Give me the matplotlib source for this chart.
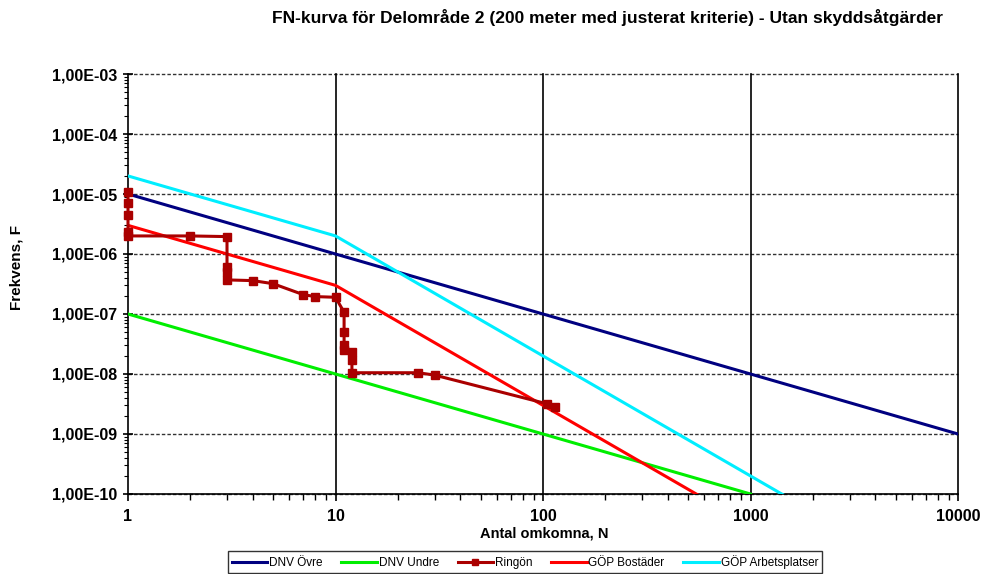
import matplotlib
matplotlib.use("Agg")
import matplotlib.pyplot as plt
from matplotlib.ticker import LogLocator, FuncFormatter, NullFormatter

plt.rcParams['font.family'] = ['Liberation Sans', 'DejaVu Sans']

# Kriterielinjer (N, F)
dnv_ovre_n = [1, 10000]
dnv_ovre_f = [1e-5, 1e-9]

dnv_undre_n = [1, 1000]
dnv_undre_f = [1e-7, 1e-10]

gop_bost_n = [1, 10, 1000]
gop_bost_f = [3e-6, 3e-7, 3e-11]

gop_arb_n = [1, 10, 1000, 10000]
gop_arb_f = [2e-5, 2e-6, 2e-10, 2e-12]

# Beräknad FN-kurva för Ringön
ringon_n = [1, 1, 1, 1, 1, 2, 3, 3, 3, 3, 4, 5, 7, 8, 10, 11, 11, 11, 11, 12, 12, 12, 25, 30, 104, 114]
ringon_f = [1.1e-5, 7e-6, 4.5e-6, 2.35e-6, 2e-6, 2e-6, 1.95e-6, 6.1e-7, 5.1e-7, 3.7e-7,
            3.6e-7, 3.2e-7, 2.1e-7, 1.95e-7, 1.9e-7, 1.07e-7, 5.1e-8, 3.0e-8, 2.5e-8,
            2.3e-8, 1.7e-8, 1.05e-8, 1.05e-8, 9.6e-9, 3.2e-9, 2.8e-9]

x_ticks = [1, 10, 100, 1000, 10000]
y_ticks = [1e-10, 1e-9, 1e-8, 1e-7, 1e-6, 1e-5, 1e-4, 1e-3]

fig = plt.figure(figsize=(9.98, 5.74), dpi=100)
ax = fig.add_axes([128 / 998, 1 - 494 / 574, 830 / 998, 420 / 574])

ax.set_xscale('log')
ax.set_yscale('log')
ax.set_xlim(1, 10000)
ax.set_ylim(1e-10, 1e-3)

# rutnät: streckat horisontellt, heldraget vertikalt
for y in y_ticks:
    ax.axhline(y, color='#333333', lw=1.0, ls=(0, (2.5, 1.5)), zorder=1, clip_on=False)
for x in x_ticks[1:]:
    ax.axvline(x, color='black', lw=1.2, zorder=1, clip_on=False)

lw = 2.2
ax.plot(dnv_ovre_n, dnv_ovre_f, color='#000080', lw=lw, label='DNV Övre', zorder=3)
ax.plot(dnv_undre_n, dnv_undre_f, color='#00ee00', lw=lw, label='DNV Undre', zorder=3)
ax.plot(ringon_n, ringon_f, color='#aa0000', lw=lw, marker='s', ms=6,
        label='Ringön', zorder=5, clip_on=False)
ax.plot(gop_bost_n, gop_bost_f, color='#ff0000', lw=lw, label='GÖP Bostäder', zorder=4)
ax.plot(gop_arb_n, gop_arb_f, color='#00eeff', lw=lw, label='GÖP Arbetsplatser', zorder=4)

for side in ['top', 'right']:
    ax.spines[side].set_visible(False)
for side in ['left', 'bottom']:
    ax.spines[side].set_linewidth(1.2)

ax.set_xticks(x_ticks)
ax.set_xticklabels([str(v) for v in x_ticks])
ax.set_yticks(y_ticks)
ax.yaxis.set_major_formatter(FuncFormatter(lambda v, p: f"{v:.2E}".replace('.', ',')))
ax.xaxis.set_minor_locator(LogLocator(base=10, subs=range(2, 10)))
ax.yaxis.set_minor_locator(LogLocator(base=10, subs=range(2, 10)))
ax.xaxis.set_minor_formatter(NullFormatter())
ax.yaxis.set_minor_formatter(NullFormatter())

ax.tick_params(axis='x', which='major', direction='out', length=5, width=1.2, pad=6)
ax.tick_params(axis='x', which='minor', direction='out', length=4, width=1)
ax.tick_params(axis='y', which='major', direction='inout', length=7, width=1.2, pad=4)
ax.tick_params(axis='y', which='minor', direction='out', length=3, width=0.8)
for lab in ax.get_xticklabels() + ax.get_yticklabels():
    lab.set_fontsize(11.5)
    lab.set_fontweight('bold')

fig.text(608 / 998, 1 - 18 / 574,
         'FN-kurva för Delområde 2 (200 meter med justerat kriterie) - Utan skyddsåtgärder',
         ha='center', va='center', fontsize=12.5, fontweight='bold')
fig.text(544 / 998, 1 - 534 / 574, 'Antal omkomna, N', ha='center', va='center',
         fontsize=10.5, fontweight='bold')
fig.text(17 / 998, 1 - 268 / 574, 'Frekvens, F', ha='center', va='center',
         rotation=90, fontsize=11, fontweight='bold')

leg = fig.legend(loc='center', bbox_to_anchor=(525 / 998, 1 - 562 / 574), ncol=5,
                 fontsize=8.5, frameon=True, fancybox=False, edgecolor='black',
                 handlelength=3.0, handletextpad=0.15, columnspacing=1.6,
                 borderpad=0.35, markerscale=0.8)
leg.get_frame().set_linewidth(1.0)

fig.savefig('out.png', dpi=100)
